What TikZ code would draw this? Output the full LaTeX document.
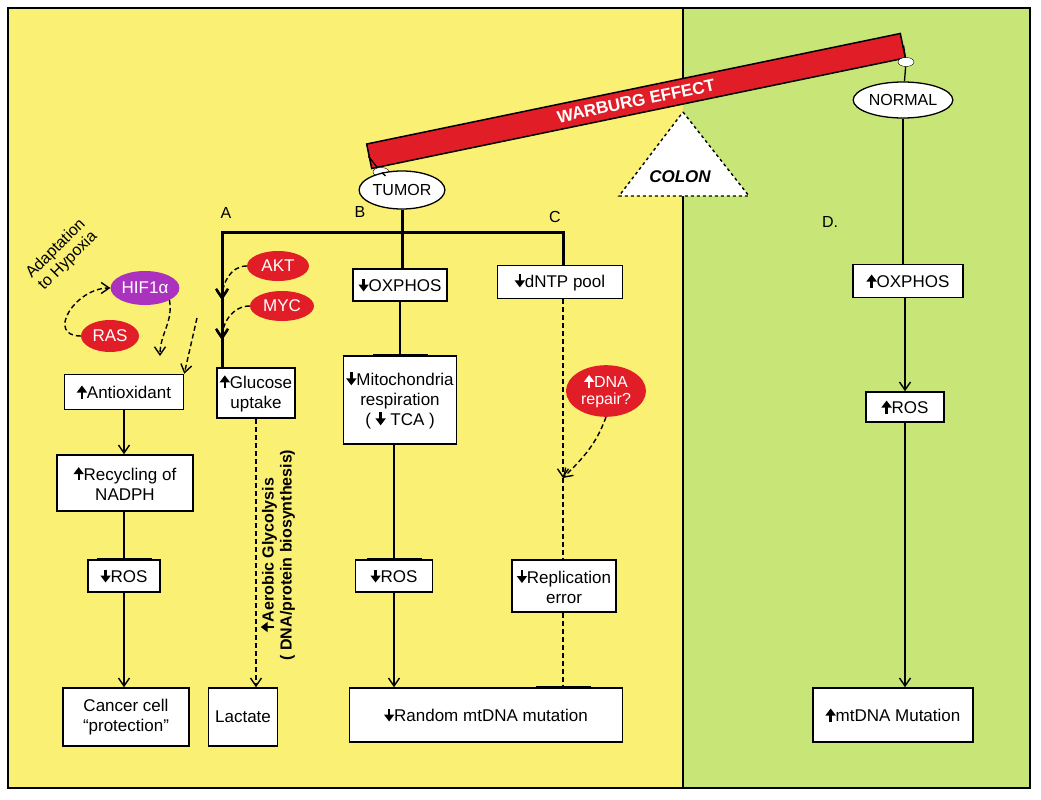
\documentclass[tikz,border=0pt]{standalone}
\usepackage{fontspec}
\setmainfont{Liberation Sans}
\usetikzlibrary{arrows.meta,positioning,shapes.geometric}
\definecolor{tumorbg}{RGB}{250,240,115}
\definecolor{normalbg}{RGB}{200,230,120}
\definecolor{enzred}{RGB}{225,30,40}
\definecolor{hifpurple}{RGB}{170,50,190}
\newcommand{\upar}{\tikz[baseline=0pt]\draw[line width=2.4pt,-{Triangle[width=10pt,length=7pt]}] (0,0pt)--(0,13pt);}
\newcommand{\dnar}{\tikz[baseline=0pt]\draw[line width=2.4pt,-{Triangle[width=10pt,length=7pt]}] (0,13pt)--(0,0pt);}
\tikzset{
  box/.style={draw,line width=1.5pt,fill=white,align=center,font=\fontsize{17}{20}\selectfont,inner sep=3pt},
  enz/.style={ellipse,fill=enzred,text=white,font=\fontsize{17}{19}\selectfont,inner sep=1pt},
  pole/.style={ellipse,draw,line width=1.3pt,fill=white,font=\fontsize{16}{18}\selectfont,inner sep=1pt},
  act/.style={line width=1.4pt,-{Straight Barb[length=8pt,width=11pt]}},
  dact/.style={act,dashed,dash pattern=on 5pt off 3pt},
  inh/.style={line width=1.4pt,-{Bar[width=55pt,line width=1.4pt]}},
}
\begin{document}
\begin{tikzpicture}[x=1pt,y=-1pt]
\useasboundingbox (0,0) rectangle (1041,800);
% Fonds
\fill[tumorbg] (8,8) rectangle (683,788);
\fill[normalbg] (683,8) rectangle (1030,788);
\draw[line width=1.5pt] (8,8) rectangle (1030,788);
\draw[line width=1.5pt] (683,196) -- (683,788);
\draw[line width=1.5pt] (683,8) -- (683,100);
% Balance
\draw[dashed,line width=1.4pt,fill=white] (683,112) -- (749,196) -- (619,196) -- cycle;
\node[font=\fontsize{17}{19}\selectfont\bfseries\itshape] (colon) at (680,177) {COLON};
\node[draw,line width=1.5pt,fill=enzred,rotate=11.7,minimum width=545,minimum height=25,inner sep=0pt,text=white,font=\fontsize{17}{19}\selectfont\bfseries] (beam) at (636,101) {WARBURG EFFECT};
\node[draw,fill=white,ellipse,minimum width=16,minimum height=9,inner sep=0pt] (tl) at (381,172) {};
\node[draw,fill=white,ellipse,minimum width=16,minimum height=9,inner sep=0pt] (tr) at (906,62) {};
\node[pole,minimum width=74,minimum height=38] (tumor) at (402,190) {TUMOR};
\node[pole,minimum width=72,minimum height=36] (normal) at (903,100) {NORMAL};
% Lettres
\node[font=\fontsize{16}{18}\selectfont] (la) at (226,213) {A};
\node[font=\fontsize{16}{18}\selectfont] (lb) at (360,212) {B};
\node[font=\fontsize{16}{18}\selectfont] (lc) at (555,217) {C};
\node[font=\fontsize{16}{18}\selectfont] (ld) at (830,222) {D.};
% Boites
\node[box,minimum width=94,minimum height=32] (oxd) at (400,285) {\dnar OXPHOS};
\node[box,minimum width=125,minimum height=33] (dntp) at (560,282) {\dnar dNTP pool};
\node[box,minimum width=110,minimum height=33] (oxu) at (908,281) {\upar OXPHOS};
\node[box,minimum width=119,minimum height=35] (antiox) at (124,392) {\upar Antioxidant};
\node[box,minimum width=57,minimum height=50] (gluc) at (256,393) {\upar Glucose\\uptake};
\node[box,minimum width=111,minimum height=88] (mito) at (400,400) {\dnar Mitochondria\\respiration\\( \dnar\ TCA )};
\node[box,minimum width=136,minimum height=56] (nadph) at (125,483) {\upar Recycling of\\NADPH};
\node[box,minimum width=78,minimum height=30] (rosu) at (905,407) {\upar ROS};
\node[box,minimum width=72,minimum height=32] (rosl) at (124,576) {\dnar ROS};
\node[box,minimum width=77,minimum height=32] (rosm) at (394,576) {\dnar ROS};
\node[box,minimum width=104,minimum height=52] (repl) at (564,586) {\dnar Replication\\error};
\node[box,minimum width=126,minimum height=58] (cancer) at (126,717) {Cancer cell\\``protection''};
\node[box,minimum width=69,minimum height=58] (lact) at (243,717) {Lactate};
\node[box,minimum width=273,minimum height=54] (rand) at (486,715) {\dnar Random mtDNA mutation};
\node[box,minimum width=160,minimum height=54] (mtu) at (893,715) {\upar mtDNA Mutation};
% Regulateurs
\node[enz,minimum width=62,minimum height=30] (akt) at (278,266) {AKT};
\node[enz,minimum width=64,minimum height=30] (myc) at (282,306) {MYC};
\node[enz,minimum width=58,minimum height=32] (ras) at (110,336) {RAS};
\node[enz,fill=hifpurple,minimum width=58,minimum height=34] (hif) at (145,288) {HIF1α};
\node[enz,minimum width=80,minimum height=48,align=center,font=\fontsize{16}{17}\selectfont] (repair) at (606,391) {\upar DNA\\repair?};
\node[rotate=45,align=center,font=\fontsize{16}{17}\selectfont] (hypox) at (62,255) {Adaptation\\to Hypoxia};
% Arbre tumeur
\coordinate (ja) at (222,232);
\coordinate (jc) at (563,232);
\coordinate (ma) at (222,300);
\coordinate (mb) at (222,340);
\draw[line width=3pt] (gluc.north -| ja) -- (ja) -- (jc) -- (dntp.north -| jc);
\draw[line width=3pt] (tumor) -- (tumor |- oxd.north);
\draw[line width=1.3pt] (tumor) -- (tl) -- (beam.west);
\draw[line width=1.3pt] (normal) -- (tr) -- (beam.east);
\draw[line width=2.5pt,-{Straight Barb[length=9pt,width=12pt]}] (ja) -- (ma);
\draw[line width=2.5pt,-{Straight Barb[length=9pt,width=12pt]}] (ma) -- (mb);
\draw[dact] (akt.west) to[out=180,in=90] (ma);
\draw[dact] (myc.west) to[out=180,in=90] (mb);
% Boucle hypoxie
\coordinate (hx) at (160,356);
\coordinate (dsh) at (197,318);
\draw[dact] (ras.west) to[out=180,in=180,looseness=1.6] (hif.west);
\draw[dact] (hif.south east) to[out=-80,in=90] (hx);
\draw[dact] (dsh) -- (antiox.north east);
% Colonne gauche
\draw[act] (antiox) -- (antiox |- nadph.north);
\draw[inh] (nadph.south -| rosl) -- (rosl.north);
\draw[act] (rosl) -- (rosl |- cancer.north);
\draw[dact] (gluc) -- node[rotate=90,align=center,font=\fontsize{16}{18}\selectfont\bfseries,below=2pt] {\upar Aerobic Glycolysis\\( DNA/protein biosynthesis)} (gluc |- lact.north);
% Colonnes B et C
\draw[inh] (oxd) -- (oxd |- mito.north);
\draw[inh] (mito.south -| rosm) -- (rosm.north);
\draw[act] (rosm) -- (rosm |- rand.north);
\coordinate (rj) at (563,478);
\draw[dact] (rj |- dntp.south) -- (rj);
\draw[dact] (repair.south) to[out=-110,in=45] (rj);
\draw[dashed,dash pattern=on 5pt off 3pt,line width=1.4pt] (rj) -- (rj |- repl.north);
\draw[inh,dashed,dash pattern=on 5pt off 3pt] (repl.south -| rj) -- (rand.north -| rj);
% Colonne normale
\draw[line width=1.3pt] (normal) -- (normal |- oxu.north);
\draw[act] (rosu |- oxu.south) -- (rosu);
\draw[act] (rosu) -- (rosu |- mtu.north);
\end{tikzpicture}
\end{document}
